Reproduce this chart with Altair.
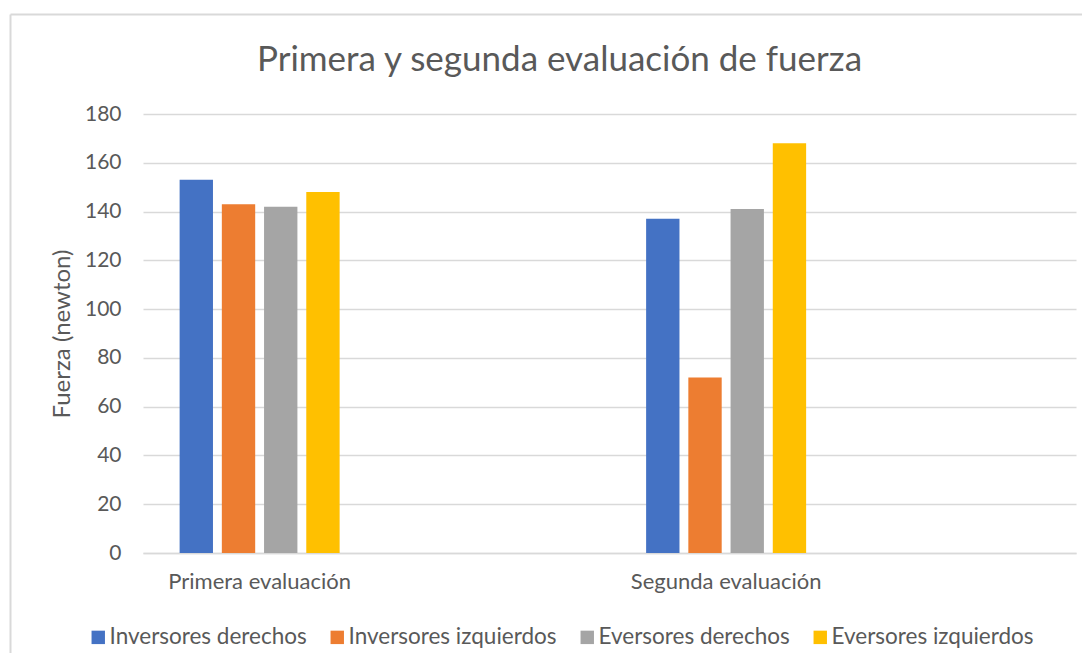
import altair as alt
import pandas as pd

categorias = ["Primera evaluación", "Segunda evaluación"]
eje_x = ["Primera evaluación", "_v1", "Segunda evaluación", "_v2"]
series = ["Inversores derechos", "Inversores izquierdos", "Eversores derechos", "Eversores izquierdos"]
inversores_derechos = [153, 137]
inversores_izquierdos = [143, 72]
eversores_derechos = [142, 141]
eversores_izquierdos = [148, 168]
colores = ["#4472C4", "#ED7D31", "#A5A5A5", "#FFC000"]
ticks_y = [0, 20, 40, 60, 80, 100, 120, 140, 160, 180]

valores = [inversores_derechos, inversores_izquierdos, eversores_derechos, eversores_izquierdos]
rows = []
for s, vals in zip(series, valores):
    for c, v in zip(categorias, vals):
        rows.append({"Evaluacion": c, "Serie": s, "Fuerza": v})
df = pd.DataFrame(rows)

FONT = "Lato"
TXT = "#595959"
BORDER = "#D9D9D9"

bars = alt.Chart(df).mark_bar().encode(
    x=alt.X("Evaluacion:N",
            scale=alt.Scale(domain=eje_x, paddingInner=0.314, paddingOuter=0.157),
            axis=alt.Axis(title=None, labelAngle=0, ticks=False, grid=False,
                          labelExpr="indexof(datum.value, '_v') == 0 ? '' : datum.value",
                          labelFontSize=22, labelColor=TXT, labelFont=FONT, labelPadding=18,
                          labelLimit=400, domainColor=BORDER, domainWidth=1.5)),
    xOffset=alt.XOffset("Serie:N", sort=series,
                        scale=alt.Scale(domain=series, paddingInner=0.21, paddingOuter=0)),
    y=alt.Y("Fuerza:Q",
            scale=alt.Scale(domain=[0, 180], nice=False),
            axis=alt.Axis(values=ticks_y, title="Fuerza (newton)", titleFontSize=24,
                          titleFontWeight="normal", titleColor=TXT, titleFont=FONT,
                          labelFontSize=21, labelColor=TXT, labelFont=FONT,
                          gridColor=BORDER, gridWidth=1.3, domain=False, ticks=False,
                          labelPadding=22, titlePadding=10)),
    color=alt.Color("Serie:N", sort=series,
                    scale=alt.Scale(domain=series, range=colores),
                    legend=alt.Legend(title=None, orient="none", direction="horizontal",
                                      legendX=-56, legendY=512, symbolType="square",
                                      symbolSize=180, symbolStrokeWidth=0, labelFontSize=22.5,
                                      labelColor=TXT, labelFont=FONT, columnPadding=19,
                                      labelOffset=0, labelLimit=400)),
)

frame_df = pd.DataFrame({"k": [0]})
top_border = alt.Chart(frame_df).mark_rule(color=BORDER, strokeWidth=2).encode(
    x=alt.value(-132.5), x2=alt.value(960), y=alt.value(-99.5)
)
left_border = alt.Chart(frame_df).mark_rule(color=BORDER, strokeWidth=2).encode(
    x=alt.value(-132.5), y=alt.value(-99.5), y2=alt.value(600)
)

chart = alt.layer(bars, top_border, left_border).properties(
    width=933, height=439,
    title=alt.TitleParams("Primera y segunda evaluación de fuerza", fontSize=35,
                          fontWeight="normal", color=TXT, font=FONT, anchor="middle",
                          dx=-50, dy=86, offset=22),
    padding={"left": 135, "top": 106, "right": 6, "bottom": 100},
    autosize=alt.AutoSizeParams(type="none"),
    background="white",
).configure_view(stroke=None)

chart.save("out.html", embed_options={"renderer": "svg", "actions": False})
